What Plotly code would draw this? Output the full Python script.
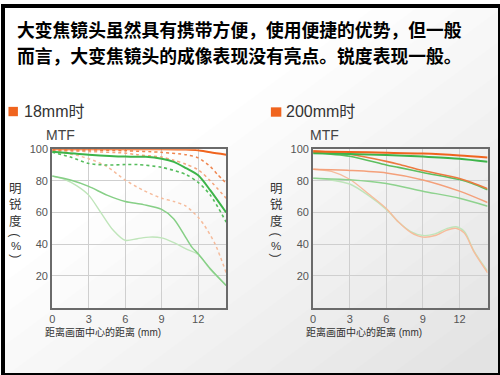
import plotly.graph_objects as go

W, H = 500, 375

# ---------------- data: 18mm (left chart) ----------------
l_orange_thick_x = [0, 3, 6, 9, 11, 12, 13, 14.3]
l_orange_thick_y = [100, 100, 100, 100, 99.8, 99.3, 98, 96.5]
l_orange_a_x = [0, 3, 6, 9, 11, 12, 13, 13.6, 14.3]
l_orange_a_y = [99.5, 99.5, 99, 98, 96.5, 94.5, 89, 84, 78.5]
l_orange_b_x = [0, 3, 6, 7, 9, 10, 11, 12, 13, 14.3]
l_orange_b_y = [99, 98.5, 97.5, 96.5, 95, 93, 90.5, 87, 80, 69]
l_orange_c_x = [0, 1.5, 3, 4.5, 6, 7.5, 9, 10, 11, 12, 12.5, 13.4, 14.3]
l_orange_c_y = [98.5, 97, 94, 89, 80.5, 74, 69, 67, 64, 57, 52, 40, 22]
l_green_thick_x = [0, 3, 6, 7.7, 9, 10, 11, 12, 13, 14.3]
l_green_thick_y = [98.3, 96.5, 95.3, 95.2, 94, 92, 88, 83.5, 74, 60]
l_green_dot_x = [0, 1.5, 3, 4.5, 6, 7, 9, 11, 12, 13, 14.3]
l_green_dot_y = [98, 95, 91, 90, 90.3, 90.3, 88.5, 84, 79, 71, 54]
l_green_thin_x = [0, 1.5, 3, 4.5, 6, 7.5, 9, 10, 11, 11.5, 12, 13, 14.3]
l_green_thin_y = [83, 80.5, 76.5, 71, 67, 65, 62, 56, 44, 38, 34, 24.5, 14]
l_green_faint_x = [0, 1, 2, 3, 4, 5, 6, 7, 8, 9, 10, 11, 12, 13, 14.3]
l_green_faint_y = [83, 81, 77, 71, 60, 49, 42.5, 43.5, 44.5, 44, 41, 37, 33.5, 24, 14]

# ---------------- data: 200mm (right chart) ----------------
r_orange_thick_x = [0, 3, 6, 9, 12, 14.3]
r_orange_thick_y = [98.5, 98.2, 97.8, 97.2, 96, 94.7]
r_green_thick_x = [0, 3, 6, 9, 12, 14.3]
r_green_thick_y = [97.5, 97, 96.3, 95.3, 94, 92]
r_orange_dash_x = [0, 3, 6, 7, 9, 12, 13, 14.3]
r_orange_dash_y = [99, 96.8, 92.3, 90.5, 86.5, 81.5, 79, 75]
r_green_dash_x = [0, 3, 6, 7, 9, 12, 13, 14.3]
r_green_dash_y = [98, 95.5, 90, 88.5, 85.3, 80.8, 78.5, 74.3]
r_orange_thin_x = [0, 3, 6, 9, 12, 14.3]
r_orange_thin_y = [87.3, 86.6, 85, 80.6, 73.5, 66.3]
r_green_thin_x = [0, 3, 6, 9, 12, 14.3]
r_green_thin_y = [81.7, 80.7, 78.3, 73.5, 69, 64]
r_orange_faint_x = [0, 1.5, 3, 4.5, 6, 7, 8, 9, 10, 11, 11.7, 12.4, 13.2, 14.3]
r_orange_faint_y = [87.3, 86, 81, 72, 62.5, 54, 47.5, 44.5, 45.5, 49, 50, 47, 35, 22]
r_green_faint_x = [0, 1.5, 3, 4.5, 6, 7, 8, 9, 10, 11, 11.7, 12.4, 13.2, 14.3]
r_green_faint_y = [81.7, 80.5, 78, 71, 62, 54, 48, 45.5, 46.5, 50, 51, 48, 35.5, 23]

# ---------------- labels ----------------
title_line1 = "大变焦镜头虽然具有携带方便，使用便捷的优势，但一般"
title_line2 = "而言，大变焦镜头的成像表现没有亮点。锐度表现一般。"
panel_titles = ["18mm时", "200mm时"]
x_tick_vals = [0, 3, 6, 9, 12]
x_tick_text = ["0", "3", "6", "9", "12"]
y_tick_vals = [20, 40, 60, 80, 100]
y_tick_text = ["20", "40", "60", "80", "100"]
mtf_label = "MTF"
x_title = "距离画面中心的距离 (mm)"
y_title_main = "明<br>锐<br>度"
y_title_unit = ["(", "%", ")"]

ORANGE = "#F0641E"
LATIN = "Liberation Sans, Arial, Noto Sans CJK SC"
CJK = "Noto Sans CJK SC, Liberation Sans"


def px(x):
    return x / W


def py(y):
    return 1 - y / H


fig = go.Figure()


def add(x, y, color, width, dash, axis):
    xa, ya = ("x", "y") if axis == 1 else ("x2", "y2")
    fig.add_trace(go.Scatter(
        x=x, y=y, mode="lines", xaxis=xa, yaxis=ya,
        line=dict(color=color, width=width, dash=dash, shape="spline", smoothing=0.8),
        hoverinfo="skip", showlegend=False))


# left chart, faint first
add(l_green_faint_x, l_green_faint_y, "#BFE5BA", 1.4, "solid", 1)
add(l_orange_c_x, l_orange_c_y, "#F6BC9C", 1.5, "dot", 1)
add(l_green_thin_x, l_green_thin_y, "#86CF86", 1.5, "solid", 1)
add(l_orange_b_x, l_orange_b_y, "#F4A57C", 1.5, "dot", 1)
add(l_orange_a_x, l_orange_a_y, "#EF8650", 1.5, "dot", 1)
add(l_green_dot_x, l_green_dot_y, "#55BD5C", 1.6, "dot", 1)
add(l_green_thick_x, l_green_thick_y, "#3DB44A", 2, "solid", 1)
add(l_orange_thick_x, l_orange_thick_y, ORANGE, 2, "solid", 1)

# right chart
add(r_green_faint_x, r_green_faint_y, "#BFE5BA", 1.4, "solid", 2)
add(r_orange_faint_x, r_orange_faint_y, "#F6BC9C", 1.4, "solid", 2)
add(r_green_thin_x, r_green_thin_y, "#8ED28E", 1.5, "solid", 2)
add(r_orange_thin_x, r_orange_thin_y, "#F4A07A", 1.5, "solid", 2)
add(r_green_dash_x, r_green_dash_y, "#5CBE5E", 1.6, "solid", 2)
add(r_orange_dash_x, r_orange_dash_y, "#EC7A40", 1.6, "solid", 2)
add(r_green_thick_x, r_green_thick_y, "#3DB44A", 2, "solid", 2)
add(r_orange_thick_x, r_orange_thick_y, ORANGE, 2, "solid", 2)

plot_top, plot_bot = 145.5, 306.5
left_dom = [px(49.5), px(224.5)]
right_dom = [px(312), px(487.5)]
ydom = [py(plot_bot), py(plot_top)]

xaxis_common = dict(range=[0, 14.3], tickvals=x_tick_vals, ticktext=x_tick_text,
                    showgrid=True, gridcolor="#CFCFCF", gridwidth=1, zeroline=False,
                    showline=True, linecolor="#6A6A6A", linewidth=2, mirror=True,
                    ticks="", tickfont=dict(family=LATIN, size=11, color="#555"),
                    fixedrange=True)
yaxis_common = dict(range=[0, 100], tickvals=y_tick_vals, ticktext=y_tick_text,
                    showgrid=True, gridcolor="#CFCFCF", gridwidth=1, zeroline=False,
                    showline=True, linecolor="#6A6A6A", linewidth=2, mirror=True,
                    ticks="", tickfont=dict(family=LATIN, size=11, color="#555"),
                    fixedrange=True)

# background gradient (diagonal, white top-left -> light grey bottom-right)
shapes = []
N = 14
for k in range(N):
    c = 0.75 + k * (1.2 / N)
    if c < 1:
        path = f"M 0 0 L 1 0 L 1 1 L {c} 1 L 0 {1 - c} Z"
    else:
        path = f"M {c - 1} 0 L 1 0 L 1 {2 - c} Z"
    shapes.append(dict(type="path", path=path, xref="paper", yref="paper",
                       fillcolor="rgba(0,0,0,0.0085)", line=dict(width=0), layer="below"))

# orange legend squares
shapes.append(dict(type="rect", xref="paper", yref="paper", x0=px(5.5), x1=px(15),
                   y0=py(112), y1=py(102.5), fillcolor=ORANGE, line=dict(width=0)))
shapes.append(dict(type="rect", xref="paper", yref="paper", x0=px(269.5), x1=px(280),
                   y0=py(112.5), y1=py(103), fillcolor=ORANGE, line=dict(width=0)))
# outer frame
shapes.append(dict(type="rect", xref="paper", yref="paper", x0=0, x1=1, y0=0, y1=1,
                   line=dict(color="#000", width=4), fillcolor="rgba(0,0,0,0)"))

ann = []


def text(t, x, y, size, color="#333", family=LATIN, xanchor="left", bold=False, angle=0):
    ann.append(dict(text=t, x=px(x), y=py(y), xref="paper", yref="paper",
                    xanchor=xanchor, yanchor="middle", showarrow=False, textangle=angle,
                    borderpad=0,
                    font=dict(size=size, color=color, family=family,
                              weight="bold" if bold else "normal")))


text(title_line1, 13, 23, 17.8, "#000", CJK, bold=True)
text(title_line2, 13, 49.5, 17.8, "#000", CJK, bold=True)
text(panel_titles[0], 20.5, 107.5, 16, "#333")
text(panel_titles[1], 284, 107.5, 16, "#333")
text(mtf_label, 57.5, 131.5, 14, "#444", xanchor="center")
text(mtf_label, 323, 131.5, 14, "#444", xanchor="center")
text(x_title, 41, 331.5, 10, "#333")
text(x_title, 304, 331.5, 10, "#333")

unit_y = [232.5, 243.5, 254]
for cx in (12.7, 275):
    text(y_title_main, cx, 203, 12.5, "#333", LATIN, xanchor="center")
    for ch, yy in zip(y_title_unit, unit_y):
        if ch in "()":
            text(ch, cx, yy, 12, "#333", LATIN, xanchor="center", angle=90)
        else:
            text(ch, cx, yy, 11.5, "#333", LATIN, xanchor="center")

fig.update_layout(
    width=W, height=H, margin=dict(l=0, r=0, t=0, b=0),
    paper_bgcolor="#FFFFFF", plot_bgcolor="rgba(0,0,0,0)",
    xaxis=dict(domain=left_dom, anchor="y", **xaxis_common),
    yaxis=dict(domain=ydom, anchor="x", **yaxis_common),
    xaxis2=dict(domain=right_dom, anchor="y2", **xaxis_common),
    yaxis2=dict(domain=ydom, anchor="x2", **yaxis_common),
    shapes=shapes, annotations=ann, showlegend=False,
)

fig.write_html(
    "out.html",
    config={"displayModeBar": False},
    post_script="document.body.style.margin='0';document.body.style.overflow='hidden';",
)
